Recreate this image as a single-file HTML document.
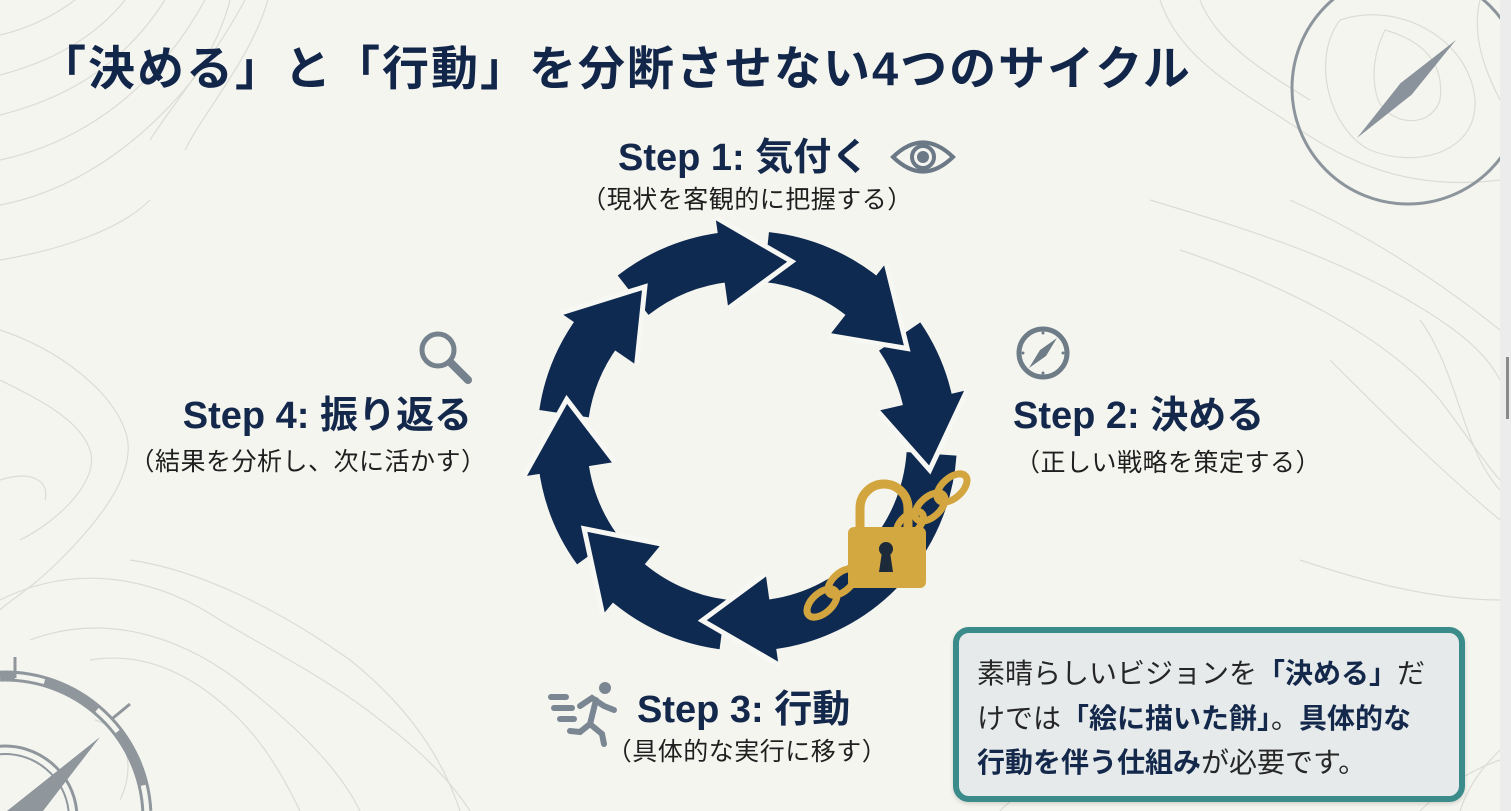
<!DOCTYPE html>
<html><head><meta charset="utf-8">
<style>
html{overflow:hidden;width:1511px;height:811px;}
html,body{margin:0;padding:0;}
body{width:1511px;height:811px;overflow:hidden;background:#f5f5f0;position:relative;font-family:"Liberation Sans","Noto Sans CJK JP",sans-serif;}
.t{position:absolute;white-space:nowrap;line-height:1;}
.h{font-weight:bold;color:#13284b;font-size:38px;}
.s{font-size:25px;color:#1f1f1f;letter-spacing:0.5px;}
.box{position:absolute;left:953px;top:627px;width:500px;height:163px;border:6px solid #3c8b8b;border-radius:16px;background:#e6eaea;box-shadow:0 2px 4px rgba(0,0,0,0.15);}
.bl{position:absolute;left:977px;font-size:28px;color:#262626;white-space:nowrap;line-height:1;}
.bl b{color:#13284b;}
</style></head><body>
<svg width="1511" height="811" style="position:absolute;left:0;top:0;display:block" xmlns="http://www.w3.org/2000/svg">
<g fill="none" stroke="#dcdcd5" stroke-width="1.2">
<path d="M0 35 C30 28 55 15 75 0"/>
<path d="M0 75 C50 62 95 38 125 0"/>
<path d="M0 115 C60 100 120 70 165 0"/>
<path d="M0 160 C70 145 150 100 205 0"/>
<path d="M0 205 C80 190 175 130 245 0"/>
<path d="M150 140 C175 100 215 60 230 0"/>
<path d="M185 150 C205 110 250 60 268 0"/>
<path d="M0 260 C60 250 120 230 150 200"/>
<path d="M1160 0 C1180 60 1240 90 1300 130 C1360 170 1420 190 1500 180"/>
<path d="M1200 0 C1215 40 1260 70 1310 100"/>
<path d="M1385 30 C1420 40 1445 60 1440 100 C1430 130 1390 125 1378 100 C1370 75 1375 50 1385 30Z"/>
<path d="M1340 20 C1400 0 1470 40 1475 100 C1478 150 1420 170 1370 150 C1330 130 1310 60 1340 20Z"/>
<path d="M1480 0 C1470 40 1490 80 1500 100"/>
<path d="M1150 200 C1250 230 1350 260 1440 320 C1470 340 1490 360 1500 380"/>
<path d="M1180 250 C1270 280 1380 330 1440 400 C1470 440 1490 470 1500 480"/>
<path d="M1290 200 C1380 240 1450 290 1500 330"/>
<path d="M1420 320 C1450 360 1460 420 1480 460 C1490 480 1500 490 1500 490"/>
<path d="M1330 360 C1390 420 1440 470 1500 520"/>
<path d="M1300 560 C1360 580 1430 600 1500 600"/>
<path d="M0 330 C60 350 110 390 125 430 C140 470 100 520 60 560 C30 590 10 600 0 610"/>
<path d="M0 380 C40 400 80 420 90 450 C100 480 60 520 20 540"/>
<path d="M0 480 C30 470 50 480 45 500"/>
<path d="M0 600 C80 560 160 580 220 620 C270 650 330 680 380 720 C420 750 450 780 470 811"/>
<path d="M30 640 C110 610 190 640 250 690 C300 730 340 770 360 811"/>
<path d="M90 660 C150 650 200 680 240 720 C270 750 290 790 300 811"/>
<path d="M130 560 C200 570 280 610 350 660 C400 700 440 750 460 811"/>
<path d="M95 720 C130 730 135 770 120 800"/>
<path d="M1460 811 C1470 780 1490 760 1500 750"/>
<path d="M1000 811 C1010 800 1020 795 1030 790"/>
<path d="M1420 811 C1440 790 1470 770 1500 760"/>
</g>
<!-- top-right compass -->
<circle cx="1408" cy="88" r="116" fill="none" stroke="#8c959c" stroke-width="3"/>
<polygon points="1357,138 1411.6,94.7 1456,40 1400.4,83.3" fill="#8a939b"/>
<!-- bottom-left compass -->
<path d="M0 676.1 A142 142 0 0 1 146.8 811" fill="none" stroke="#8f979d" stroke-width="11"/>
<path d="M0 676.1 A142 142 0 0 1 146.8 811" fill="none" stroke="#f5f5f0" stroke-width="5" stroke-dasharray="30 60" stroke-dashoffset="-15"/>
<path d="M0 746.2 A72 72 0 0 1 76.7 811" fill="none" stroke="#8f979d" stroke-width="3"/>
<path d="M0 754.2 A64 64 0 0 1 68.6 811" fill="none" stroke="#8f979d" stroke-width="2"/>
<line x1="15" y1="657" x2="15" y2="678" stroke="#8f979d" stroke-width="3"/>
<line x1="113" y1="718" x2="130" y2="704" stroke="#8f979d" stroke-width="3"/>
<polygon points="100,737 43,811 7,811" fill="#8f979d"/>
<!-- cycle -->
<g transform="translate(747,441)">
<g fill="none" stroke="#0f2a50" stroke-width="50">
<circle r="185" stroke-dasharray="90.4 2000" transform="rotate(188.5)"/>
<circle r="185" stroke-dasharray="103.3 2000" transform="rotate(232)"/>
<circle r="185" stroke-dasharray="109.8 2000" transform="rotate(-84)"/>
<circle r="185" stroke-dasharray="75.6 2000" transform="rotate(-34.4)"/>
<circle r="185" stroke-dasharray="258.3 2000" transform="rotate(4)"/>
<circle r="185" stroke-dasharray="110.4 2000" transform="rotate(97.5)"/>
<circle r="185" stroke-dasharray="93.6 2000" transform="rotate(144)"/>
</g>
<g>
<g transform="rotate(326.5)"><path d="M-84.7 -209.5 L0 -185 L-50.2 -124.2Z" fill="#0f2a50"/><path d="M-84.7 -209.5 L0 -185 L-50.2 -124.2" fill="none" stroke="#f7f7f3" stroke-width="5"/></g>
<g transform="rotate(14)"><path d="M-84.7 -209.5 L0 -185 L-50.2 -124.2Z" fill="#0f2a50"/><path d="M-84.7 -209.5 L0 -185 L-50.2 -124.2" fill="none" stroke="#f7f7f3" stroke-width="5"/></g>
<g transform="rotate(60)"><path d="M-84.7 -209.5 L0 -185 L-50.2 -124.2Z" fill="#0f2a50"/><path d="M-84.7 -209.5 L0 -185 L-50.2 -124.2" fill="none" stroke="#f7f7f3" stroke-width="5"/></g>
<g transform="rotate(99)"><path d="M-84.7 -209.5 L0 -185 L-50.2 -124.2Z" fill="#0f2a50"/><path d="M-84.7 -209.5 L0 -185 L-50.2 -124.2" fill="none" stroke="#f7f7f3" stroke-width="5"/></g>
<g transform="rotate(194)"><path d="M-84.7 -209.5 L0 -185 L-50.2 -124.2Z" fill="#0f2a50"/><path d="M-84.7 -209.5 L0 -185 L-50.2 -124.2" fill="none" stroke="#f7f7f3" stroke-width="5"/></g>
<g transform="rotate(241.7)"><path d="M-84.7 -209.5 L0 -185 L-50.2 -124.2Z" fill="#0f2a50"/><path d="M-84.7 -209.5 L0 -185 L-50.2 -124.2" fill="none" stroke="#f7f7f3" stroke-width="5"/></g>
<g transform="rotate(283)"><path d="M-84.7 -209.5 L0 -185 L-50.2 -124.2Z" fill="#0f2a50"/><path d="M-84.7 -209.5 L0 -185 L-50.2 -124.2" fill="none" stroke="#f7f7f3" stroke-width="5"/></g>
</g>
</g>
<!-- chains -->
<g fill="none" stroke="#d2a53e" stroke-width="7">
<ellipse cx="952" cy="488" rx="18" ry="10" transform="rotate(-42 952 488)"/>
<ellipse cx="930" cy="507" rx="18" ry="10" transform="rotate(-42 930 507)"/>
<ellipse cx="910" cy="524" rx="16" ry="9" transform="rotate(-42 910 524)"/>
<ellipse cx="842" cy="582" rx="17" ry="9" transform="rotate(-42 842 582)"/>
<ellipse cx="822" cy="603" rx="18" ry="10" transform="rotate(-42 822 603)"/>
</g>
<!-- lock -->
<path d="M860 530 V508 A24 24 0 0 1 908 508 V530" fill="none" stroke="#d2a53e" stroke-width="9"/>
<rect x="848" y="527" width="78" height="61" rx="6" fill="#d4a840"/>
<circle cx="886" cy="549" r="7" fill="#1d2a3a"/>
<polygon points="882,552 890,552 893,572 879,572" fill="#1d2a3a"/>
<!-- eye icon -->
<path d="M893 157 Q923 128 953 157 Q923 186 893 157 Z" fill="none" stroke="#6b7886" stroke-width="4"/>
<circle cx="923" cy="157" r="11" fill="none" stroke="#6b7886" stroke-width="4"/>
<circle cx="923" cy="157" r="6" fill="#6b7886"/>
<!-- compass icon -->
<circle cx="1043" cy="353" r="24" fill="none" stroke="#6e7c88" stroke-width="5"/>
<polygon points="1057,338 1046,356 1029,368 1040,350" fill="#6e7c88"/>
<circle cx="1043" cy="333" r="1.5" fill="#6e7c88"/><circle cx="1043" cy="373" r="1.5" fill="#6e7c88"/>
<circle cx="1023" cy="353" r="1.5" fill="#6e7c88"/><circle cx="1063" cy="353" r="1.5" fill="#6e7c88"/>
<!-- magnifier -->
<circle cx="438" cy="350" r="16" fill="none" stroke="#75818c" stroke-width="5"/>
<line x1="451" y1="363" x2="468" y2="380" stroke="#75818c" stroke-width="8" stroke-linecap="round"/>
<!-- runner -->
<g stroke="#7a8793" stroke-width="6" stroke-linecap="round" fill="none">
<line x1="551" y1="697" x2="566" y2="697"/>
<line x1="554" y1="708" x2="572" y2="708"/>
<line x1="560" y1="719" x2="574" y2="719"/>
<path d="M580 706 L592 698 L604 706 L614 710"/>
<path d="M596 700 L590 724"/>
<path d="M590 724 L602 734 L604 744"/>
<path d="M590 724 L580 732 L570 731"/>
</g>
<circle cx="605" cy="688" r="6" fill="#7a8793"/>
<!-- scrollbar -->
<rect x="1500" y="0" width="11" height="811" fill="#ececec"/>
<rect x="1506" y="357" width="3" height="62" fill="#8a8a8a"/>
</svg>

<div class="t" style="left:39px;top:45px;font-size:47px;font-weight:bold;color:#12264a;letter-spacing:2px;">「決める」と「行動」を分断させない4つのサイクル</div>

<div class="t h" style="left:618px;top:139px;">Step 1: 気付く</div>
<div class="t s" style="left:547px;top:188px;width:400px;text-align:center;">（現状を客観的に把握する）</div>

<div class="t h" style="left:1013px;top:397px;">Step 2: 決める</div>
<div class="t s" style="left:968px;top:451px;width:400px;text-align:center;">（正しい戦略を策定する）</div>

<div class="t h" style="left:637px;top:691px;">Step 3: 行動</div>
<div class="t s" style="left:547px;top:740px;width:400px;text-align:center;">（具体的な実行に移す）</div>

<div class="t h" style="left:72px;top:397px;width:400px;text-align:right;">Step 4: 振り返る</div>
<div class="t s" style="left:108px;top:450px;width:400px;text-align:center;">（結果を分析し、次に活かす）</div>

<div class="box"></div>
<div class="bl" style="top:660px;">素晴らしいビジョンを<b>「決める」</b>だ</div>
<div class="bl" style="top:705px;">けでは<b>「絵に描いた餅」</b>。<b>具体的な</b></div>
<div class="bl" style="top:749px;"><b>行動を伴う仕組み</b>が必要です。</div>
</body></html>
